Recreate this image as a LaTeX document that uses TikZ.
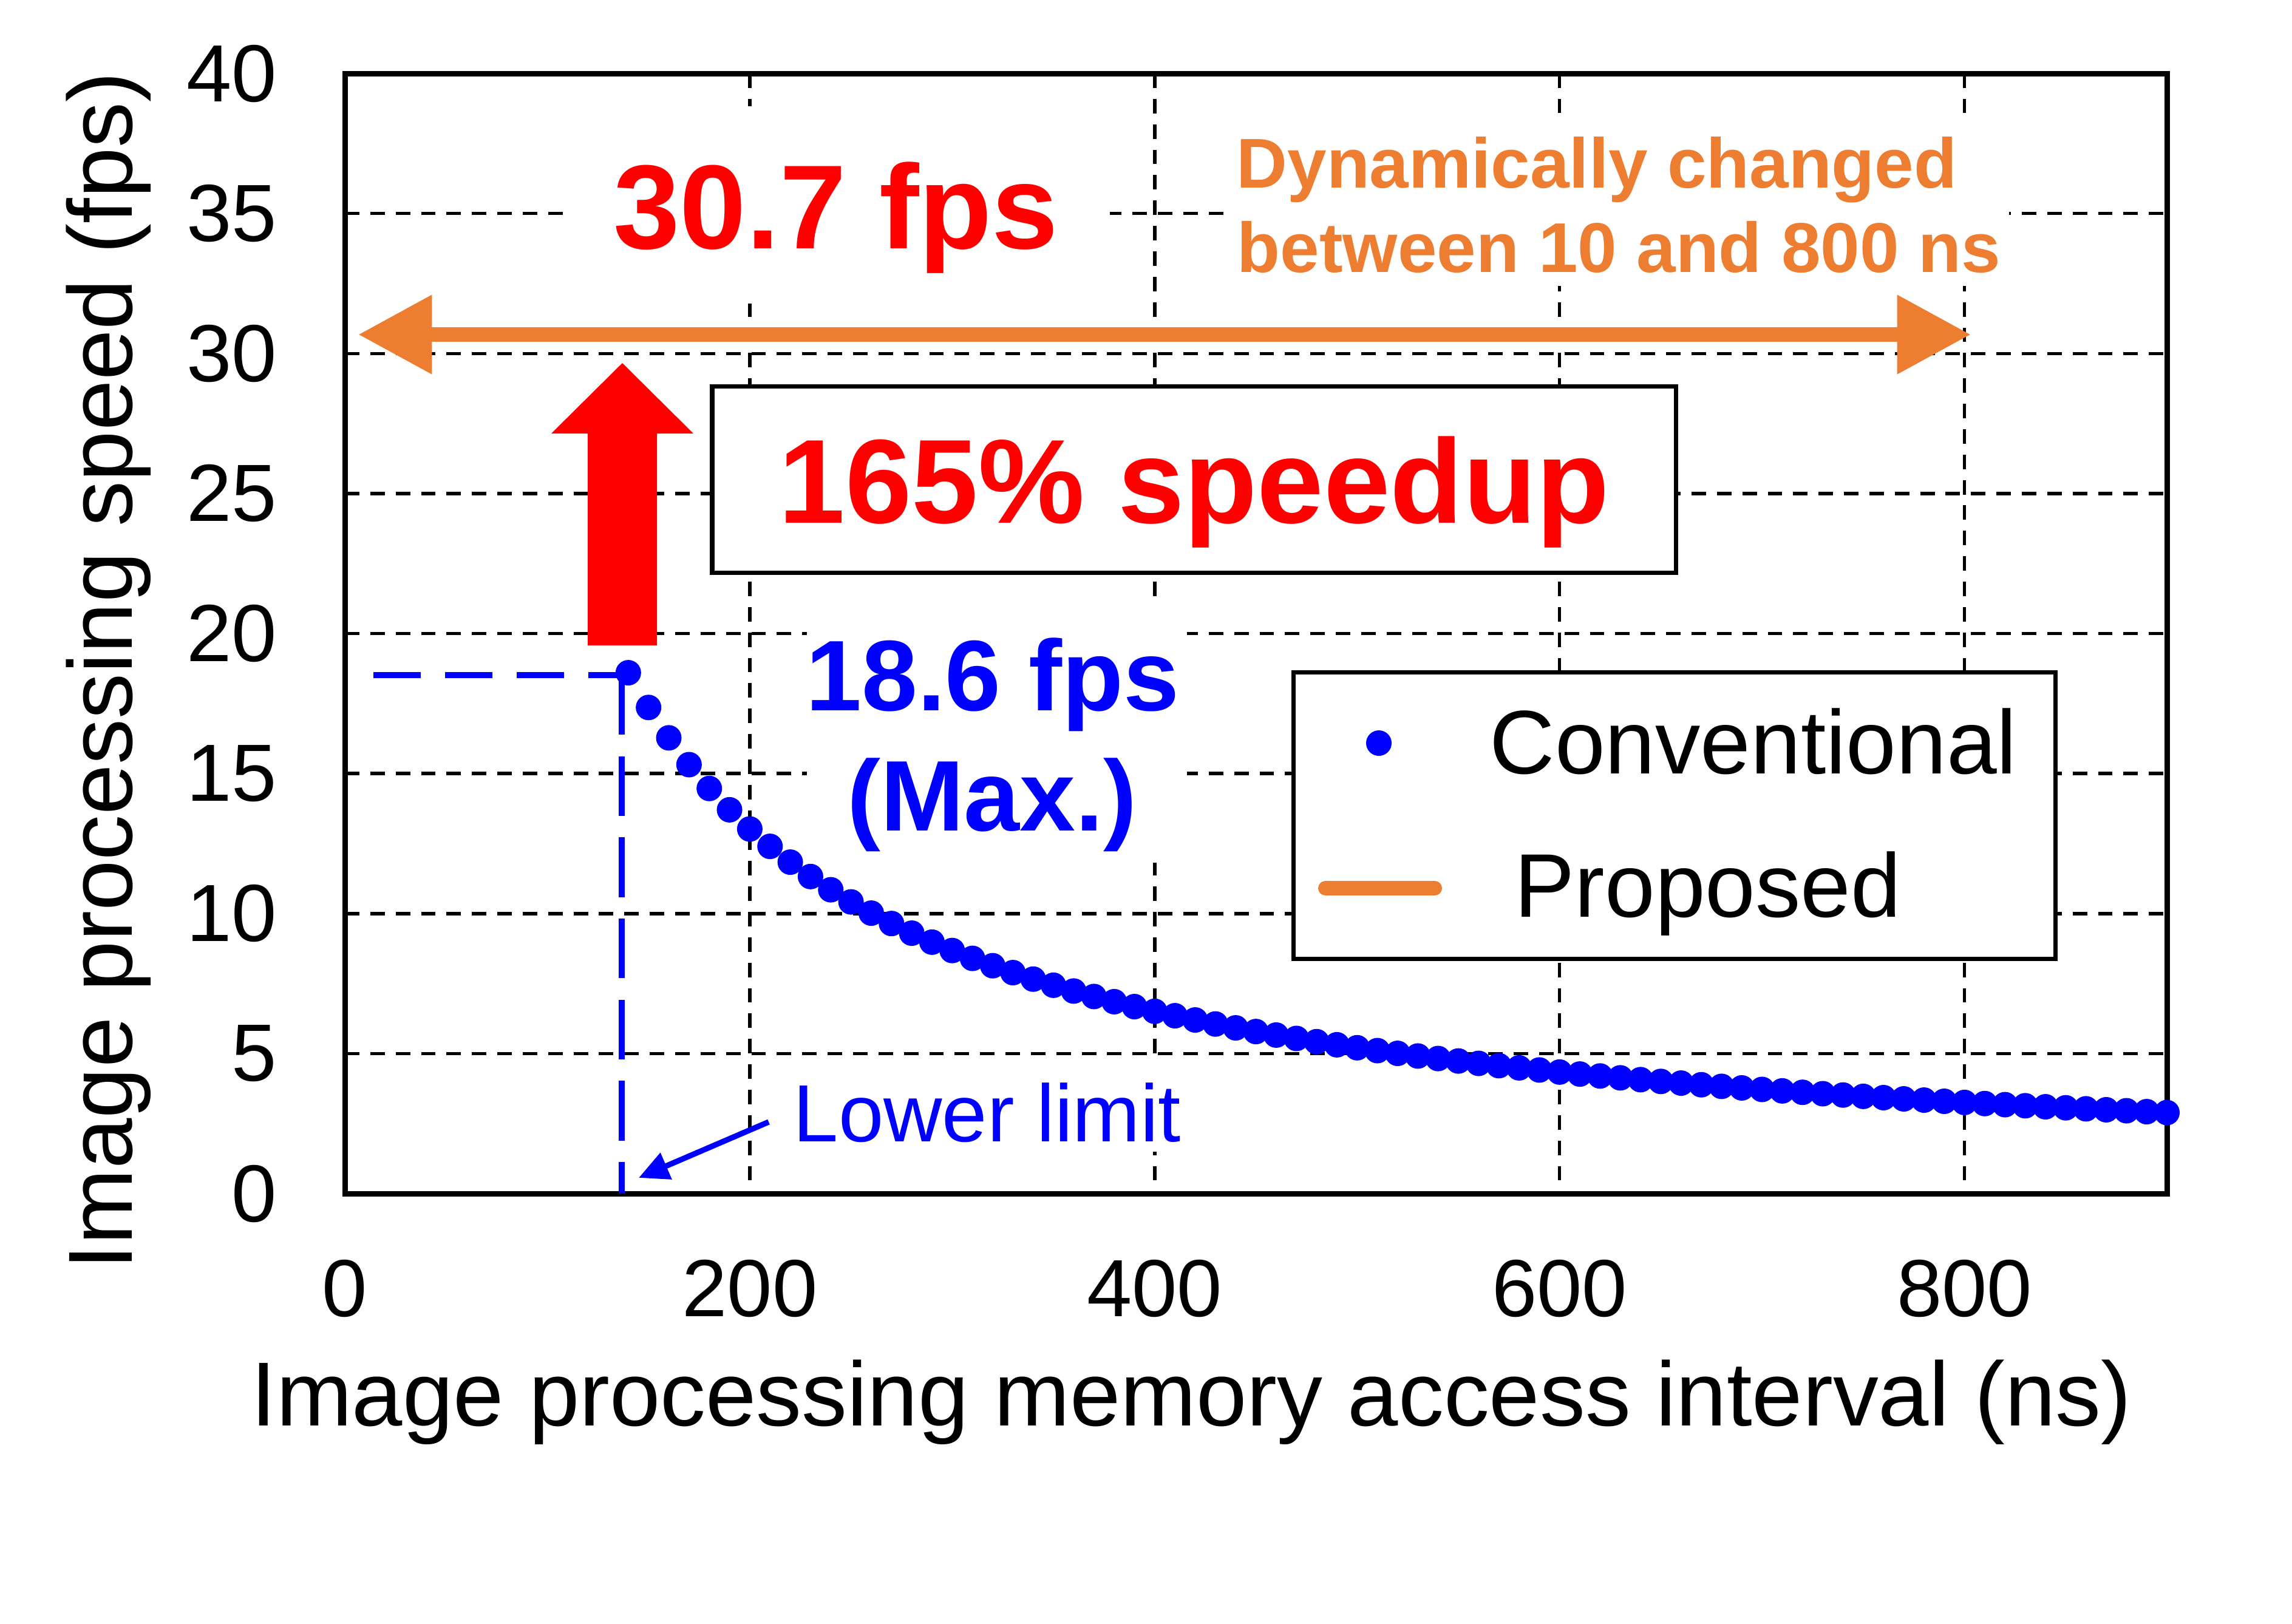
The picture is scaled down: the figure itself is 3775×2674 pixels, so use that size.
\documentclass[tikz,border=0pt]{standalone}
\usepackage{fontspec}
\setmainfont{Liberation Sans}
\usetikzlibrary{arrows.meta}
\definecolor{orng}{HTML}{ED7D31}
\definecolor{rd}{HTML}{FF0000}
\definecolor{bl}{HTML}{0000FF}
\begin{document}
\begin{tikzpicture}[x=0.01cm,y=-0.01cm,
  gridline/.style={black,line width=1.55pt,dash pattern=on 6.8pt off 5.1pt},
  ticklab/.style={inner sep=0pt,font=\fontsize{38}{40}\selectfont},
  axtitle/.style={inner sep=0pt,font=\fontsize{42.6}{44}\selectfont},
  boxed/.style={draw=black,fill=white,line width=2pt},
  bigred/.style={inner sep=0pt,text=rd,font=\fontsize{56}{60}\selectfont\bfseries},
  bigblue/.style={inner sep=0pt,text=bl,font=\fontsize{47}{50}\selectfont\bfseries},
  orangetxt/.style={inner sep=0pt,text=orng,font=\fontsize{33}{36}\selectfont\bfseries},
  legtxt/.style={inner sep=0pt,font=\fontsize{42.3}{44}\selectfont},
  bluedashh/.style={bl,line width=2.85pt,dash pattern=on 22.2pt off 11.4pt},
  bluedashv/.style={bl,line width=2.85pt,dash pattern=on 28pt off 10pt}]
\useasboundingbox (0,0) rectangle (3775,2674);
\fill[white] (0,0) rectangle (3775,2674);

% grid
\foreach \k in {1,...,7}
  \draw[gridline] (568,{1966-\k*230.625}) -- (3569,{1966-\k*230.625});
\foreach \k in {1,...,4}
  \draw[gridline] ({568+\k*666.89},121) -- ({568+\k*666.89},1966);

% white backgrounds of labels
\fill[white] (929,175) rectangle (1828,500);
\fill[white] (2020,186) rectangle (3309,471);
\fill[white] (1329,1000) rectangle (1955,1421);
\fill[white] (1290,1743) rectangle (1965,1897);

% frame
\draw[line width=2.56pt] (568,121) rectangle (3569,1966);

% tick labels
\foreach \v in {0,5,...,40}
  \node[ticklab,anchor=east] (yt\v) at (457,{1966-\v*46.125}) {\v};
\foreach \v in {0,200,...,800}
  \node[ticklab,anchor=north] (xt\v) at ({568+\v*3.33444},2074) {\v};

% axis titles
\node[axtitle,rotate=90,anchor=base] (ytitle) at (217,1105) {Image processing speed (fps)};
\node[axtitle,anchor=base] (xtitle) at (1962,2348) {Image processing memory access interval (ns)};

% 165% box
\draw[boxed] (1173,636) rectangle (2760,943);
\node[bigred,anchor=base] (speedup) at (1967,861) {165\% speedup};

% legend
\draw[boxed] (2130,1107) rectangle (3385,1579);
\fill[bl] (2271,1224) circle[radius=0.21cm];
\node[legtxt,anchor=base west] (legconv) at (2453,1274) {Conventional};
\coordinate (lp1) at (2183,1463);
\coordinate (lp2) at (2363,1463);
\draw[orng,line width=6.83pt,line cap=round] (lp1) -- (lp2);
\node[legtxt,anchor=base west] (legprop) at (2494,1510) {Proposed};

% blue dashed guide lines
\coordinate (gA) at (615,1112);
\coordinate (gB) at (1024,1112);
\coordinate (gC) at (1024,1966);
\draw[bluedashh] (gA) -- (gB);
\draw[bluedashv] (gB) -- (gC);

% conventional data
\foreach \t in {140,150,...,900}
  \fill[bl] ({568+\t*3.33444},{1966-2604/\t*46.125}) circle[radius=0.21cm];

% red arrow
\fill[rd] (968,1063) -- (968,714) -- (908,714) -- (1025,598) -- (1142,714)
  -- (1082,714) -- (1082,1063) -- cycle;

% proposed double arrow
\coordinate (pl) at (590,551);
\coordinate (pr) at (3246,551);
\draw[orng,line width=6.83pt,
  {Triangle[length=34.5pt 0 0,width=35.3pt 0 0]}-{Triangle[length=34.5pt 0 0,width=35.3pt 0 0]}]
  (pl) -- (pr);

% texts
\node[bigred,anchor=base] (fps307) at (1377,409) {30.7 fps};
\node[orangetxt,anchor=base west] (dyn1) at (2036,309) {Dynamically changed};
\node[orangetxt,anchor=base west] (dyn2) at (2037,448) {between 10 and 800 ns};
\node[bigblue,anchor=base] (fps186) at (1635,1170) {18.6 fps};
\node[bigblue,anchor=base] (maxlab) at (1634,1368) {(Max.)};

% lower limit
\node[inner sep=0pt,text=bl,font=\fontsize{38}{40}\selectfont,anchor=base west] (lower) at (1306,1880) {Lower limit};
\coordinate (llS) at (1266,1848);
\coordinate (llT) at (1052,1940);
\draw[bl,line width=2.6pt,-{Triangle[length=14pt 0 0,width=13pt 0 0]}] (llS) -- (llT);
\end{tikzpicture}
\end{document}
